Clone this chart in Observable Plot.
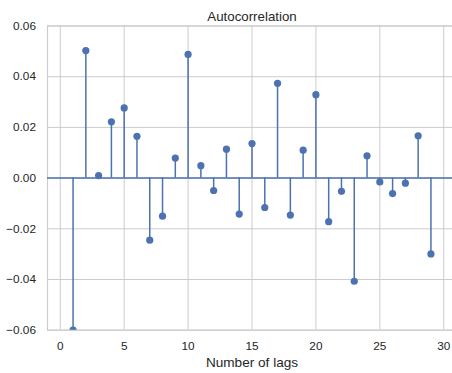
<!DOCTYPE html>
<html>
<head>
<meta charset="utf-8">
<script src="https://cdn.jsdelivr.net/npm/d3@7"></script>
<script src="https://cdn.jsdelivr.net/npm/@observablehq/plot@0.6"></script>
<style>
  html, body { margin: 0; padding: 0; background: #fff; overflow: hidden; }
  #wrap { width: 452px; height: 373px; overflow: hidden; }
  #wrap svg { max-width: none !important; }
</style>
</head>
<body>
<div id="wrap"></div>
<script>
const lags = [1,2,3,4,5,6,7,8,9,10,11,12,13,14,15,16,17,18,19,20,21,22,23,24,25,26,27,28,29];
const acf = [-0.0600, 0.0503, 0.0010, 0.0222, 0.0277, 0.0165, -0.0245, -0.0150, 0.0079, 0.0488,
             0.0049, -0.0049, 0.0114, -0.0142, 0.0136, -0.0116, 0.0374, -0.0146, 0.0110, 0.0329,
             -0.0172, -0.0052, -0.0407, 0.0088, -0.0015, -0.0061, -0.0020, 0.0167, -0.0299];
const xTicks = [0, 5, 10, 15, 20, 25, 30];
const yTicks = [-0.06, -0.04, -0.02, 0.00, 0.02, 0.04, 0.06];
const titleText = "Autocorrelation";
const xLabel = "Number of lags";

const data = lags.map((l, i) => ({lag: l, value: acf[i]}));
const blue = "#4c72b0";
const textColor = "#262626";
const gridColor = "#cccccc";

const chart = Plot.plot({
  width: 460,
  height: 373,
  marginLeft: 47,
  marginRight: 4,
  marginTop: 25.5,
  marginBottom: 43.3,
  style: {fontFamily: "'Liberation Sans', Arial, sans-serif", fontSize: "12px", color: textColor, background: "#fff", maxWidth: "none"},
  x: {domain: [-1, 31], ticks: xTicks},
  y: {domain: [-0.06, 0.06], ticks: yTicks},
  marks: [
    Plot.gridX(xTicks, {stroke: gridColor, strokeOpacity: 1, strokeWidth: 1}),
    Plot.gridY(yTicks, {stroke: gridColor, strokeOpacity: 1, strokeWidth: 1}),
    Plot.frame({stroke: gridColor, strokeWidth: 1.2}),
    Plot.axisX(xTicks, {tickSize: 0, tickPadding: 11, fontSize: 11.8, fill: textColor,
      label: xLabel, labelAnchor: "center", labelArrow: "none", labelOffset: 37}),
    Plot.axisY(yTicks, {tickSize: 0, tickPadding: 11.5, fontSize: 11.8, fill: textColor,
      tickFormat: d3.format(".2f"), label: null}),
    Plot.ruleY([0], {stroke: blue, strokeWidth: 1.5}),
    Plot.ruleX(data, {x: "lag", y1: 0, y2: "value", stroke: blue, strokeWidth: 1.5, clip: true}),
    Plot.dot(data, {x: "lag", y: "value", r: 3.6, fill: blue, stroke: "none", clip: true}),
    Plot.text([titleText], {frameAnchor: "top", lineAnchor: "bottom", dy: -5.5, fontSize: 13.3, fill: textColor})
  ]
});
chart.style.maxWidth = "none";
chart.querySelectorAll("[aria-label='x-axis label'] text, [aria-label='x-axis label']").forEach(e => e.setAttribute("font-size", "13.6"));
document.getElementById("wrap").appendChild(chart);
</script>
</body>
</html>
